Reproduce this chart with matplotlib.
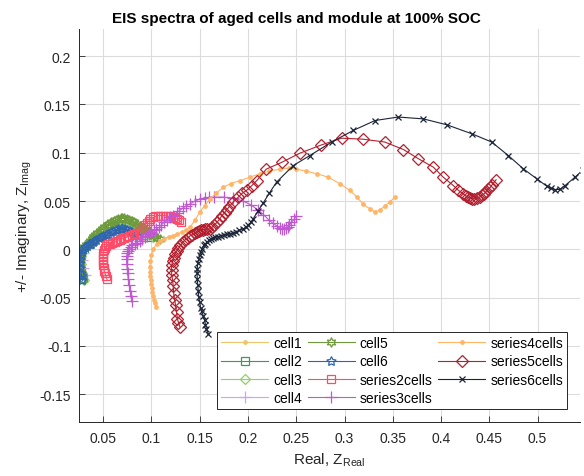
import numpy as np
import matplotlib
matplotlib.use("Agg")
import matplotlib.pyplot as plt
from matplotlib.ticker import FuncFormatter

plt.rcParams['font.family'] = ['Liberation Sans', 'DejaVu Sans']
plt.rcParams['mathtext.fontset'] = 'custom'
plt.rcParams['mathtext.rm'] = 'Liberation Sans'
plt.rcParams['mathtext.it'] = 'Liberation Sans:italic'
plt.rcParams['axes.unicode_minus'] = False

# EIS spectra (Real, Imag)
cell1_x = [0.030, 0.028, 0.0275, 0.028, 0.030, 0.035, 0.042, 0.050, 0.058, 0.066, 0.074, 0.082, 0.090]
cell1_y = [-0.028, -0.020, -0.012, -0.005, 0.000, 0.005, 0.009, 0.012, 0.014, 0.015, 0.015, 0.013, 0.010]
cell2_x = [0.029, 0.027, 0.026, 0.027, 0.030, 0.035, 0.041, 0.048, 0.055, 0.062, 0.069, 0.076, 0.083, 0.090, 0.097]
cell2_y = [-0.030, -0.022, -0.013, -0.006, 0.000, 0.006, 0.012, 0.017, 0.021, 0.024, 0.025, 0.024, 0.021, 0.017, 0.013]
cell3_x = [0.030, 0.028, 0.027, 0.027, 0.029, 0.034, 0.040, 0.047, 0.054, 0.061, 0.068, 0.075, 0.082, 0.089, 0.096, 0.102]
cell3_y = [-0.032, -0.024, -0.015, -0.007, 0.000, 0.007, 0.013, 0.019, 0.024, 0.028, 0.030, 0.029, 0.026, 0.022, 0.017, 0.013]
cell4_x = [0.031, 0.029, 0.028, 0.029, 0.031, 0.036, 0.043, 0.051, 0.059, 0.067, 0.075, 0.083, 0.091]
cell4_y = [-0.027, -0.019, -0.011, -0.004, 0.001, 0.006, 0.010, 0.014, 0.017, 0.019, 0.019, 0.017, 0.014]
cell5_x = [0.029, 0.028, 0.027, 0.026, 0.026, 0.026, 0.027, 0.028, 0.030, 0.032, 0.034, 0.036, 0.038, 0.040, 0.042,
           0.044, 0.047, 0.049, 0.051, 0.054, 0.056, 0.058, 0.061, 0.063, 0.065, 0.068, 0.070, 0.072, 0.075, 0.077,
           0.080, 0.082, 0.085, 0.088, 0.091, 0.094, 0.097, 0.100, 0.103, 0.106, 0.109]
cell5_y = [-0.031, -0.027, -0.023, -0.018, -0.013, -0.008, -0.004, -0.001, 0.002, 0.004, 0.006, 0.009, 0.011, 0.013, 0.015,
           0.017, 0.019, 0.021, 0.023, 0.025, 0.026, 0.028, 0.029, 0.030, 0.031, 0.032, 0.032, 0.032, 0.031, 0.030,
           0.029, 0.028, 0.026, 0.024, 0.022, 0.020, 0.018, 0.016, 0.014, 0.012, 0.011]
cell6_x = [0.0285, 0.028, 0.027, 0.026, 0.026, 0.0262, 0.027, 0.028, 0.029, 0.031, 0.033, 0.035, 0.037, 0.039, 0.041,
           0.043, 0.046, 0.048, 0.050, 0.053, 0.055, 0.058, 0.060, 0.063, 0.065, 0.068, 0.070, 0.073, 0.075, 0.078,
           0.080, 0.083, 0.086]
cell6_y = [-0.032, -0.028, -0.024, -0.019, -0.014, -0.010, -0.006, -0.003, 0.000, 0.002, 0.003, 0.005, 0.006, 0.008, 0.009,
           0.010, 0.012, 0.013, 0.014, 0.015, 0.016, 0.018, 0.019, 0.020, 0.021, 0.021, 0.022, 0.021, 0.020, 0.019,
           0.018, 0.016, 0.014]
s2_x = [0.054, 0.053, 0.052, 0.051, 0.051, 0.050, 0.050, 0.050, 0.050, 0.050, 0.051, 0.052, 0.053, 0.055, 0.057, 0.059,
        0.062, 0.064, 0.067, 0.069, 0.072, 0.075, 0.077, 0.080, 0.082, 0.085, 0.087, 0.089, 0.091, 0.093, 0.095, 0.097,
        0.099, 0.102, 0.104, 0.107, 0.109, 0.112, 0.114, 0.117, 0.119, 0.122, 0.124, 0.127, 0.129, 0.131]
s2_y = [-0.031, -0.028, -0.025, -0.022, -0.019, -0.016, -0.013, -0.010, -0.007, -0.004, -0.001, 0.001, 0.003, 0.005, 0.006, 0.007,
        0.008, 0.009, 0.010, 0.011, 0.012, 0.013, 0.014, 0.015, 0.016, 0.017, 0.019, 0.021, 0.023, 0.025, 0.027, 0.029,
        0.031, 0.033, 0.034, 0.035, 0.035, 0.035, 0.035, 0.034, 0.034, 0.033, 0.032, 0.031, 0.030, 0.028]
s3_x = [0.0794, 0.079, 0.078, 0.077, 0.076, 0.0755, 0.075, 0.0745, 0.0742, 0.0745, 0.075, 0.076, 0.077, 0.079, 0.080, 0.083,
        0.085, 0.088, 0.090, 0.093, 0.095, 0.098, 0.100, 0.103, 0.105, 0.108, 0.110, 0.113, 0.116, 0.119, 0.122, 0.126,
        0.129, 0.133, 0.136, 0.140, 0.145, 0.150, 0.155, 0.160, 0.165, 0.175, 0.185, 0.195, 0.203, 0.210, 0.216, 0.222,
        0.226, 0.230, 0.233, 0.235, 0.237, 0.239, 0.241, 0.243, 0.245, 0.248, 0.250]
s3_y = [-0.053, -0.048, -0.043, -0.037, -0.031, -0.025, -0.020, -0.015, -0.010, -0.007, -0.004, -0.002, 0.000, 0.002, 0.004, 0.006,
        0.007, 0.009, 0.011, 0.013, 0.014, 0.016, 0.018, 0.020, 0.021, 0.023, 0.025, 0.028, 0.030, 0.033, 0.035, 0.038,
        0.040, 0.043, 0.045, 0.047, 0.050, 0.052, 0.053, 0.054, 0.054, 0.054, 0.053, 0.050, 0.046, 0.041, 0.036, 0.030,
        0.027, 0.024, 0.022, 0.021, 0.021, 0.022, 0.023, 0.025, 0.028, 0.031, 0.035]
s4_x = [0.1046, 0.104, 0.103, 0.102, 0.101, 0.1005, 0.100, 0.0995, 0.099, 0.0987, 0.0984, 0.099, 0.100, 0.102, 0.1053, 0.109,
        0.113, 0.118, 0.1225, 0.127, 0.132, 0.136, 0.140, 0.145, 0.150, 0.155, 0.1606, 0.167, 0.174, 0.182, 0.1916,
        0.202, 0.212, 0.222, 0.233, 0.242, 0.250, 0.260, 0.272, 0.283, 0.295, 0.3056, 0.313, 0.319, 0.326, 0.3316,
        0.337, 0.342, 0.347, 0.352]
s4_y = [-0.060, -0.056, -0.052, -0.048, -0.044, -0.040, -0.036, -0.032, -0.028, -0.023, -0.018, -0.012, -0.006, 0.000, 0.0057, 0.009,
        0.011, 0.013, 0.0143, 0.016, 0.018, 0.020, 0.023, 0.030, 0.0385, 0.045, 0.052, 0.058, 0.064, 0.068, 0.071,
        0.0747, 0.078, 0.081, 0.083, 0.084, 0.083, 0.081, 0.078, 0.0747, 0.068, 0.061, 0.054, 0.047, 0.042, 0.0385,
        0.041, 0.045, 0.049, 0.054]
s5_x = [0.1295, 0.128, 0.127, 0.126, 0.125, 0.124, 0.123, 0.1225, 0.122, 0.121, 0.1209, 0.121, 0.122, 0.123, 0.1243, 0.126,
        0.128, 0.130, 0.1329, 0.135, 0.138, 0.140, 0.1425, 0.145, 0.1468, 0.149, 0.151, 0.153, 0.156, 0.158, 0.1606,
        0.163, 0.165, 0.168, 0.171, 0.173, 0.176, 0.178, 0.1805, 0.1847, 0.190, 0.194, 0.1986, 0.204, 0.209, 0.219,
        0.2349, 0.2538, 0.276, 0.297, 0.319, 0.3418, 0.361, 0.3766, 0.392, 0.4023, 0.4127, 0.418, 0.423, 0.426, 0.428,
        0.430, 0.4318, 0.434, 0.437, 0.440, 0.442, 0.444, 0.446, 0.449, 0.451, 0.453, 0.457]
s5_y = [-0.0805, -0.076, -0.072, -0.065, -0.058, -0.052, -0.045, -0.0375, -0.032, -0.027, -0.0210, -0.0167, -0.012, -0.009, -0.005, -0.002,
        0.001, 0.004, 0.0075, 0.010, 0.012, 0.014, 0.015, 0.017, 0.0178, 0.019, 0.020, 0.0205, 0.021, 0.021, 0.0212,
        0.023, 0.025, 0.028, 0.0316, 0.035, 0.038, 0.041, 0.044, 0.0489, 0.054, 0.058, 0.061, 0.066, 0.071, 0.083,
        0.090, 0.0995, 0.108, 0.115, 0.114, 0.111, 0.1033, 0.0937, 0.085, 0.0747, 0.066, 0.061, 0.0574, 0.055, 0.054,
        0.053, 0.0523, 0.052, 0.053, 0.054, 0.0557, 0.057, 0.059, 0.0626, 0.064, 0.067, 0.072]
s6_x = [0.1588, 0.157, 0.156, 0.155, 0.1536, 0.152, 0.151, 0.150, 0.149, 0.1485, 0.148, 0.1474, 0.1474, 0.1474, 0.148, 0.149,
        0.150, 0.151, 0.152, 0.154, 0.156, 0.158, 0.160, 0.162, 0.164, 0.166, 0.169, 0.172, 0.175, 0.178, 0.1813, 0.185,
        0.188, 0.191, 0.195, 0.198, 0.200, 0.203, 0.2054, 0.2106, 0.2158, 0.222, 0.2297, 0.2469, 0.264, 0.2867, 0.309,
        0.3316, 0.3557, 0.3816, 0.4059, 0.4318, 0.4525, 0.4697, 0.4852, 0.4991, 0.5094, 0.514, 0.518, 0.523, 0.5284,
        0.5388, 0.5474]
s6_y = [-0.0875, -0.082, -0.078, -0.073, -0.0685, -0.064, -0.061, -0.0547, -0.049, -0.043, -0.037, -0.0305, -0.025, -0.020, -0.0145, -0.0098,
        -0.006, -0.003, 0.000, 0.004, 0.006, 0.008, 0.0095, 0.0109, 0.0118, 0.0125, 0.013, 0.014, 0.015, 0.0155, 0.016, 0.017,
        0.018, 0.0195, 0.0212, 0.023, 0.025, 0.028, 0.0316, 0.040, 0.048, 0.058, 0.0696, 0.0867, 0.097, 0.111, 0.123,
        0.1333, 0.1369, 0.135, 0.1289, 0.1196, 0.111, 0.097, 0.0833, 0.073, 0.0654, 0.063, 0.0619, 0.062, 0.066,
        0.0747, 0.0826]

labels = ["cell1", "cell2", "cell3", "cell4", "cell5", "cell6",
          "series2cells", "series3cells", "series4cells", "series5cells", "series6cells"]
series = [(cell1_x, cell1_y), (cell2_x, cell2_y), (cell3_x, cell3_y), (cell4_x, cell4_y),
          (cell5_x, cell5_y), (cell6_x, cell6_y), (s2_x, s2_y), (s3_x, s3_y),
          (s4_x, s4_y), (s5_x, s5_y), (s6_x, s6_y)]
colors = ["#EDC56A", "#3A9A5C", "#8FD45C", "#C9A6F2", "#6F9A3C", "#2D64AE",
          "#FF4A68", "#C058D2", "#FFB466", "#B2202F", "#1C2438"]
# matlab-ish markers: hexagram / pentagram as open stars
markers = [".", "s", "D", "+", (6, 1, 0), (5, 1, 0), "s", "+", ".", "D", "x"]
msizes = [5, 5.5, 5.5, 8, 7, 7, 5.5, 8, 5, 6, 5]
filled = [True, False, False, True, False, False, False, True, True, False, True]

fig = plt.figure(figsize=(5.84, 4.77), dpi=100)
ax = fig.add_axes([0.1353, 0.1126, 0.858, 0.8245])

for (xs, ys), lab, c, m, ms, f in zip(series, labels, colors, markers, msizes, filled):
    ax.plot(xs, ys, color=c, marker=m, markersize=ms, markerfacecolor=c if f else "none",
            markeredgecolor=c, linewidth=0.8, markeredgewidth=0.9, label=lab)

ax.set_xlim(0.025, 0.544)
ax.set_ylim(-0.179, 0.228)
ax.set_xticks(np.arange(0.05, 0.501, 0.05))
ax.set_yticks(np.arange(-0.15, 0.201, 0.05))
fmt = FuncFormatter(lambda v, p: "%g" % round(v, 3))
ax.xaxis.set_major_formatter(fmt)
ax.yaxis.set_major_formatter(fmt)
ax.tick_params(direction="in", length=4, width=0.6, colors="#262626", labelsize=10, pad=6)
ax.grid(True, color="#dcdcdc", linewidth=0.8)
ax.set_axisbelow(True)
for s in ["top", "right"]:
    ax.spines[s].set_visible(False)
for s in ["left", "bottom"]:
    ax.spines[s].set_color("#262626")
    ax.spines[s].set_linewidth(0.7)

ax.set_title("EIS spectra of aged cells and module at 100% SOC", fontsize=11, fontweight="bold",
             pad=5, x=0.433)
ax.set_xlabel("Real, Z$_{\\mathrm{Real}}$", fontsize=11, color="#262626")
ax.set_ylabel("+/- Imaginary, Z$_{\\mathrm{Imag}}$", fontsize=11, color="#262626")

leg = ax.legend(ncol=3, loc="lower left", bbox_to_anchor=(0.2754, 0.0338), borderaxespad=0,
                fontsize=10, handlelength=3.4, labelspacing=0.3, columnspacing=0.4,
                handletextpad=0.35, borderpad=0.3, fancybox=False, framealpha=1)
leg.get_frame().set_edgecolor("#262626")
leg.get_frame().set_linewidth(0.7)

fig.savefig("out.png", dpi=100)
